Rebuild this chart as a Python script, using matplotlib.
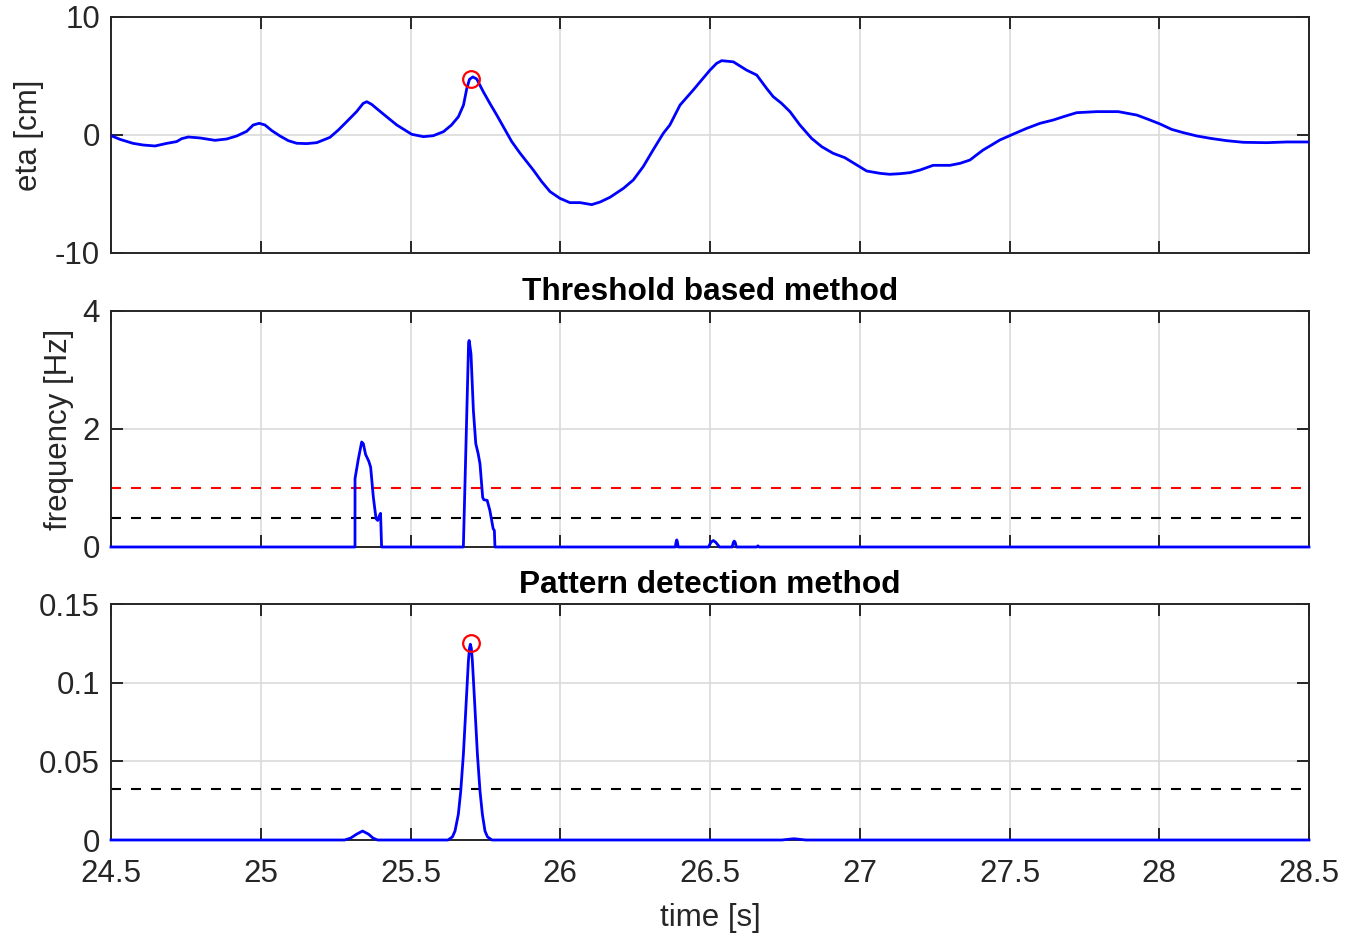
import matplotlib
matplotlib.use("Agg")
import matplotlib.pyplot as plt

plt.rcParams['font.family'] = ['Liberation Sans', 'DejaVu Sans']
plt.rcParams['lines.scale_dashes'] = False

# ---------------- data ----------------
# surface elevation eta [cm]
t_eta = [24.500, 24.530, 24.574, 24.608, 24.647, 24.686, 24.719, 24.736, 24.758, 24.797,
         24.847, 24.886, 24.920, 24.953, 24.975, 24.995, 25.014, 25.037, 25.064, 25.092,
         25.120, 25.153, 25.187, 25.231, 25.259, 25.287, 25.320, 25.342, 25.354, 25.370,
         25.409, 25.454, 25.504, 25.543, 25.576, 25.610, 25.637, 25.660, 25.677, 25.688,
         25.697, 25.708, 25.721, 25.743, 25.765, 25.788, 25.810, 25.838, 25.866, 25.888,
         25.910, 25.938, 25.966, 25.999, 26.032, 26.066, 26.105, 26.133, 26.166, 26.211,
         26.244, 26.277, 26.310, 26.344, 26.366, 26.400, 26.444, 26.472, 26.500, 26.522,
         26.539, 26.578, 26.622, 26.656, 26.689, 26.711, 26.739, 26.767, 26.800, 26.839,
         26.873, 26.911, 26.950, 26.990, 27.023, 27.068, 27.100, 27.134, 27.168, 27.201,
         27.245, 27.301, 27.335, 27.368, 27.390, 27.412, 27.440, 27.468, 27.513, 27.557,
         27.602, 27.646, 27.680, 27.724, 27.791, 27.863, 27.925, 27.963, 28.003, 28.041,
         28.080, 28.125, 28.170, 28.225, 28.281, 28.359, 28.426, 28.500]
eta = [-0.05, -0.37, -0.71, -0.85, -0.93, -0.71, -0.56, -0.31, -0.17, -0.25,
       -0.45, -0.34, -0.08, 0.31, 0.85, 0.99, 0.85, 0.37, -0.08, -0.48,
       -0.70, -0.73, -0.65, -0.20, 0.42, 1.13, 1.98, 2.68, 2.82, 2.60,
       1.78, 0.85, 0.06, -0.14, -0.06, 0.28, 0.85, 1.55, 2.54, 3.95,
       4.72, 4.92, 4.75, 3.67, 2.68, 1.69, 0.70, -0.56, -1.55, -2.26,
       -2.97, -3.95, -4.80, -5.37, -5.73, -5.73, -5.90, -5.68, -5.28, -4.52,
       -3.81, -2.68, -1.27, 0.14, 0.85, 2.54, 3.81, 4.66, 5.50, 6.07,
       6.30, 6.20, 5.50, 5.08, 3.95, 3.25, 2.68, 1.98, 0.85, -0.28,
       -0.99, -1.55, -1.92, -2.54, -3.05, -3.25, -3.33, -3.28, -3.19, -2.97,
       -2.57, -2.57, -2.40, -2.12, -1.69, -1.27, -0.85, -0.42, 0.08, 0.56,
       0.99, 1.27, 1.55, 1.89, 1.98, 1.98, 1.69, 1.33, 0.93, 0.48,
       0.20, -0.08, -0.28, -0.48, -0.62, -0.65, -0.59, -0.59]

# threshold based method: frequency [Hz]
t_freq = [24.50, 25.3147, 25.3148, 25.3258, 25.337, 25.3425, 25.350, 25.361, 25.367,
          25.376, 25.385, 25.3905, 25.396, 25.400, 25.4035, 25.6765, 25.694, 25.696,
          25.702, 25.710, 25.718, 25.726, 25.732, 25.741, 25.745, 25.756, 25.765,
          25.776, 25.780, 25.782, 26.384, 26.387, 26.389, 26.391, 26.394, 26.495,
          26.503, 26.511, 26.519, 26.532, 26.574, 26.578, 26.581, 26.584, 26.588,
          26.656, 26.660, 26.664, 28.50]
freq = [0.0, 0.0, 1.16, 1.49, 1.78, 1.75, 1.57, 1.45, 1.35,
        0.84, 0.48, 0.45, 0.53, 0.57, 0.0, 0.0, 3.47, 3.50,
        3.27, 2.31, 1.75, 1.58, 1.41, 0.84, 0.80, 0.79, 0.62,
        0.31, 0.28, 0.0, 0.0, 0.09, 0.12, 0.09, 0.0, 0.0,
        0.08, 0.11, 0.08, 0.0, 0.0, 0.08, 0.10, 0.08, 0.0,
        0.0, 0.02, 0.0, 0.0]
freq_thr_red = 1.0
freq_thr_black = 0.5

# pattern detection method
t_pat = [24.50, 25.28, 25.30, 25.32, 25.34, 25.36, 25.375, 25.39, 25.625,
         25.640, 25.6486, 25.6597, 25.6677, 25.6766, 25.6856, 25.6933, 25.6970,
         25.6998, 25.7030, 25.7066, 25.7145, 25.7234, 25.7321, 25.740, 25.7487,
         25.757, 25.772, 26.74, 26.78, 26.82, 28.50]
pat = [0.0, 0.0, 0.0012, 0.0037, 0.0057, 0.0037, 0.0012, 0.0, 0.0,
       0.0020, 0.0057, 0.0163, 0.031, 0.0545, 0.0863, 0.1138, 0.1220,
       0.1244, 0.1220, 0.1138, 0.0863, 0.0545, 0.031, 0.0163, 0.0057,
       0.0020, 0.0, 0.0, 0.0008, 0.0, 0.0]
pat_thr = 0.0322

# detected event
t_event = 25.7005
eta_event = 4.75
pat_event = 0.1254

xticks = [24.5, 25, 25.5, 26, 26.5, 27, 27.5, 28, 28.5]
xticklabels = ['24.5', '25', '25.5', '26', '26.5', '27', '27.5', '28', '28.5']

# ---------------- figure ----------------
W, H = 1345, 936
fig = plt.figure(figsize=(W / 100, H / 100), dpi=100)

def px_axes(x0, y0, x1, y1):
    return fig.add_axes([x0 / W, 1 - y1 / H, (x1 - x0) / W, (y1 - y0) / H])

ax1 = px_axes(111, 17, 1309, 253)
ax2 = px_axes(111, 311, 1309, 547)
ax3 = px_axes(111, 604, 1309, 840)

edge = '#262626'
fs = 22.5
tfs = 22.8
blue = (0, 0, 1)
red = (1, 0, 0)
lw = 2.0

for ax in (ax1, ax2, ax3):
    ax.set_xlim(24.5, 28.5)
    ax.set_xticks(xticks)
    ax.grid(True, color='#dadada', linewidth=1.2)
    ax.set_axisbelow(True)
    for s in ax.spines.values():
        s.set_color(edge)
        s.set_linewidth(1.4)
    ax.tick_params(direction='in', length=8.5, width=1.4, color=edge,
                   top=True, right=True, labelsize=fs, labelcolor=edge)
    ax.tick_params(axis='y', pad=8)
    ax.tick_params(axis='x', pad=14)

# top panel
ax1.plot(t_eta, eta, color=blue, linewidth=lw, zorder=3)
ax1.plot([t_event], [eta_event], 'o', mfc='none', mec=red, ms=12, mew=1.6, zorder=4)
ax1.set_ylim(-10, 10)
ax1.set_yticks([-10, 0, 10])
ax1.set_yticklabels(['-10', '0', '10'])
ax1.set_xticklabels([])
ax1.set_ylabel('eta [cm]', fontsize=fs, color=edge)
ax1.yaxis.set_label_coords((44 - 111) / 1198, 0.5)

# middle panel
dash = [7.2, 7.2]
ax2.axhline(freq_thr_red, color=red, linewidth=1.5, linestyle=(0, dash), zorder=2.2)
ax2.axhline(freq_thr_black, color='black', linewidth=1.5, linestyle=(0, dash), zorder=2.2)
ax2.plot(t_freq, freq, color=blue, linewidth=lw, zorder=3, clip_on=False)
ax2.set_ylim(0, 4)
ax2.set_yticks([0, 2, 4])
ax2.set_yticklabels(['0', '2', '4'])
ax2.set_xticklabels([])
ax2.set_ylabel('frequency [Hz]', fontsize=fs, color=edge)
ax2.yaxis.set_label_coords((74 - 111) / 1198, 0.5)
ax2.set_title('Threshold based method', fontsize=tfs, fontweight='bold', color='black', pad=8)

# bottom panel
ax3.axhline(pat_thr, color='black', linewidth=1.5, linestyle=(0, dash), zorder=2.2)
ax3.plot(t_pat, pat, color=blue, linewidth=lw, zorder=3, clip_on=False)
ax3.plot([t_event], [pat_event], 'o', mfc='none', mec=red, ms=12, mew=1.6, zorder=4)
ax3.set_ylim(0, 0.15)
ax3.set_yticks([0, 0.05, 0.1, 0.15])
ax3.set_yticklabels(['0', '0.05', '0.1', '0.15'])
ax3.set_xticklabels(xticklabels)
ax3.set_xlabel('time [s]', fontsize=fs, color=edge, labelpad=10)
ax3.set_title('Pattern detection method', fontsize=tfs, fontweight='bold', color='black', pad=8)

fig.savefig('out.png', dpi=100)
